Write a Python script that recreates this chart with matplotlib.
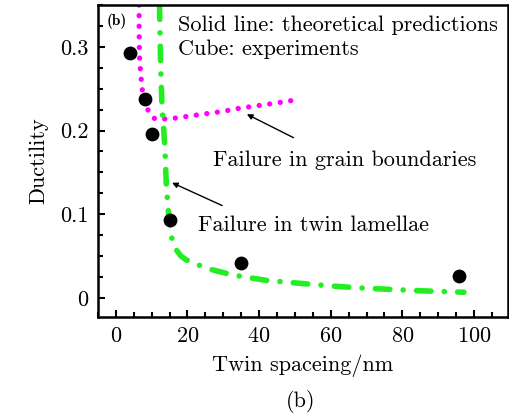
import numpy as np
import matplotlib
matplotlib.use("Agg")
import matplotlib.pyplot as plt
from matplotlib.ticker import MultipleLocator

plt.rcParams['font.family'] = 'serif'
plt.rcParams['font.serif'] = ['cmr10', 'DejaVu Serif']
plt.rcParams['axes.formatter.use_mathtext'] = True

# experiments (black dots)
exp_x = [3.9, 8.1, 10.0, 15.0, 35.0, 95.8]
exp_y = [0.293, 0.238, 0.196, 0.093, 0.0415, 0.0267]

# failure in grain boundaries (magenta dotted)
gb_x = [6.5, 6.5, 6.6, 6.9, 7.3, 7.8, 8.5, 9.2, 10.0, 10.9, 12.5, 13.8, 16.9, 20.0, 25.0, 30.0, 33.6, 39.2, 45.0, 50.3]
gb_y = [0.35, 0.32, 0.29, 0.27, 0.252, 0.235, 0.228, 0.223, 0.218, 0.214, 0.2135, 0.214, 0.215, 0.217, 0.220, 0.223, 0.226, 0.2295, 0.233, 0.2367]

# failure in twin lamellae (green dash-dot)
tl_x = [12.2, 12.5, 12.9, 13.3, 13.7, 14.1, 14.8, 15.5, 16.9, 18.2, 19.7, 21.9, 24.5, 27.1, 32.6, 35.4, 42.0, 51.3, 60.0, 69.8, 83.7, 97.2]
tl_y = [0.35, 0.28, 0.229, 0.205, 0.18, 0.135, 0.097, 0.073, 0.0573, 0.050, 0.0454, 0.0415, 0.037, 0.0334, 0.0275, 0.0255, 0.021, 0.0175, 0.0143, 0.0116, 0.0088, 0.0068]

fig = plt.figure(figsize=(5.10, 4.19), dpi=100)
ax = fig.add_axes([0.192, 0.243, 0.804, 0.745])

ax.plot(gb_x, gb_y, linestyle=(0, (0.01, 2.0)), color='#ff00ff', linewidth=3.8,
        dash_capstyle='round', zorder=2)
ax.plot(tl_x, tl_y, linestyle=(0, (2.6, 2.4, 0.01, 2.4)), color='#22ee22', linewidth=4.0,
        dash_capstyle='round', zorder=2)
ax.scatter(exp_x, exp_y, s=80, color='black', zorder=3)

ax.set_xlim(-5, 109.5)
ax.set_ylim(-0.023, 0.35)
ax.xaxis.set_major_locator(MultipleLocator(20))
ax.xaxis.set_minor_locator(MultipleLocator(5))
ax.set_yticks([0, 0.1, 0.2, 0.3])
ax.set_yticklabels(['0', '0.1', '0.2', '0.3'])
ax.yaxis.set_minor_locator(MultipleLocator(0.025))
ax.tick_params(which='major', length=5)
ax.tick_params(which='minor', length=3.5)
ax.tick_params(which='both', direction='in', width=1.5, top=False, right=False,
               labelsize=16, pad=7)
for s in ax.spines.values():
    s.set_linewidth(1.8)

ax.set_xlabel('Twin spaceing/nm', fontsize=16, labelpad=6)
ax.set_ylabel('Ductility', fontsize=16, labelpad=8)

ax.text(-2.5, 0.331, '(b)', fontsize=11, family=['cmb10', 'DejaVu Serif'], va='center')
ax.text(17.5, 0.326, 'Solid line: theoretical predictions', fontsize=16, va='center')
ax.text(17.5, 0.297, 'Cube: experiments', fontsize=16, va='center')

ax.annotate('', xy=(35.9, 0.221), xytext=(50.3, 0.19),
            arrowprops=dict(arrowstyle='-|>', color='black', lw=1.0, mutation_scale=8))
ax.text(27.0, 0.164, 'Failure in grain boundaries', fontsize=16, va='center')

ax.annotate('', xy=(15.0, 0.139), xytext=(30.4, 0.109),
            arrowprops=dict(arrowstyle='-|>', color='black', lw=1.0, mutation_scale=8))
ax.text(23.0, 0.087, 'Failure in twin lamellae', fontsize=16, va='center')

fig.text(0.59, 0.042, '(b)', fontsize=16, ha='center', va='center')

fig.savefig('out.png', dpi=100)
